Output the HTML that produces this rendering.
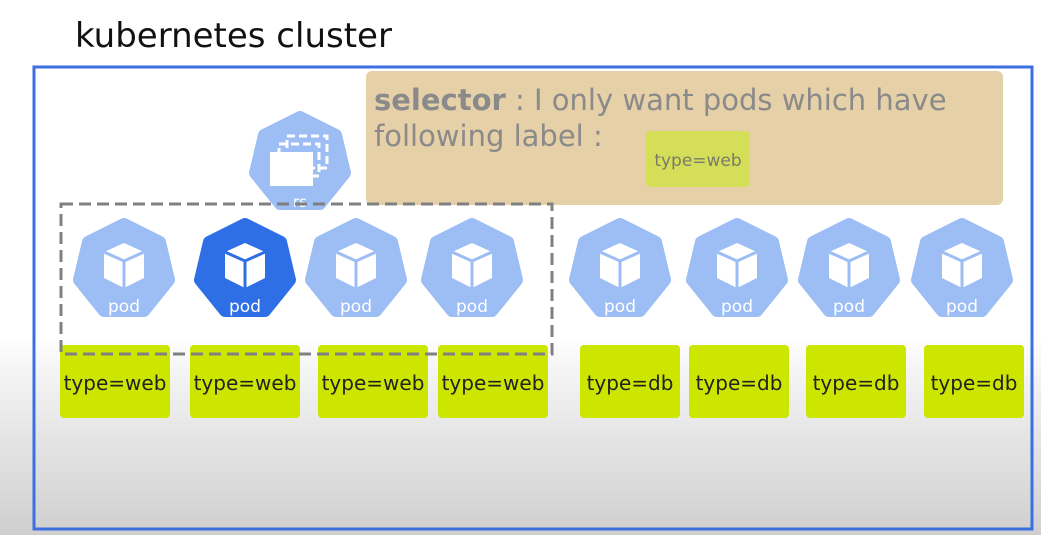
<!DOCTYPE html>
<html><head><meta charset="utf-8"><style>
html,body{margin:0;padding:0;}
body{width:1041px;height:535px;overflow:hidden;background:linear-gradient(#fff 0px,#fff 335px,#f2f2f2 380px,#cfcfcf 535px);font-family:"Liberation Sans",sans-serif;}
</style></head><body>
<svg width="1041" height="535" viewBox="0 0 1041 535" xmlns="http://www.w3.org/2000/svg" style="position:absolute;left:0;top:0">
<defs>
<g id="hep"><polygon points="0,-46 36,-28 45,10 20,41 -20,41 -45,10 -36,-28" stroke-linejoin="round" stroke-width="12"/></g>
<g id="cube"><polygon points="-20,-18 0,-27 20,-18 20,8 0,18 -20,8" fill="#fff"/></g>
</defs>
<text x="75" y="47" font-family="DejaVu Sans, Liberation Sans, sans-serif" font-size="34" fill="#111">kubernetes cluster</text>
<rect x="34" y="67" width="998" height="462" fill="none" stroke="#3c6fe0" stroke-width="3"/>
<rect x="366" y="71" width="637" height="134" rx="6" fill="#e5d0a8"/>
<text x="374" y="110" font-family="DejaVu Sans, sans-serif" font-size="29" fill="#8a8a8a"><tspan font-weight="bold">selector</tspan> : I only want pods which have</text>
<text x="374" y="146" font-family="DejaVu Sans, sans-serif" font-size="29" fill="#8a8a8a">following label  :</text>
<rect x="646" y="131" width="104" height="56" rx="4" fill="#d4de58"/>
<text x="698" y="166" text-anchor="middle" font-family="DejaVu Sans, sans-serif" font-size="17" fill="#7a7a6a">type=web</text>

<!-- rs -->
<g transform="translate(300,163)" fill="#9dbdf5" stroke="#9dbdf5"><use href="#hep"/></g>
<g fill="none" stroke="#fff" stroke-width="3" stroke-dasharray="8,4">
<rect x="287" y="136" width="40" height="32"/>
<rect x="279" y="144" width="40" height="32"/>
</g>
<rect x="270" y="152" width="43" height="34" fill="#fff"/>
<text x="300" y="207" text-anchor="middle" font-family="DejaVu Sans, sans-serif" font-size="15" fill="#fff">rs</text>

<!-- pods -->
<g font-family="DejaVu Sans, sans-serif" font-size="17" fill="#fff" text-anchor="middle">
<g transform="translate(124,270)"><g fill="#9dbdf5" stroke="#9dbdf5"><use href="#hep"/></g><use href="#cube"/><polyline points="-20,-18 0,-9 20,-18" fill="none" stroke="#9dbdf5" stroke-width="3"/><line x1="0" y1="-9" x2="0" y2="18" stroke="#9dbdf5" stroke-width="3"/><text y="42">pod</text></g>
<g transform="translate(245,270)"><g fill="#2f6fe6" stroke="#2f6fe6"><use href="#hep"/></g><use href="#cube"/><polyline points="-20,-18 0,-9 20,-18" fill="none" stroke="#2f6fe6" stroke-width="3"/><line x1="0" y1="-9" x2="0" y2="18" stroke="#2f6fe6" stroke-width="3"/><text y="42">pod</text></g>
<g transform="translate(356,270)"><g fill="#9dbdf5" stroke="#9dbdf5"><use href="#hep"/></g><use href="#cube"/><polyline points="-20,-18 0,-9 20,-18" fill="none" stroke="#9dbdf5" stroke-width="3"/><line x1="0" y1="-9" x2="0" y2="18" stroke="#9dbdf5" stroke-width="3"/><text y="42">pod</text></g>
<g transform="translate(472,270)"><g fill="#9dbdf5" stroke="#9dbdf5"><use href="#hep"/></g><use href="#cube"/><polyline points="-20,-18 0,-9 20,-18" fill="none" stroke="#9dbdf5" stroke-width="3"/><line x1="0" y1="-9" x2="0" y2="18" stroke="#9dbdf5" stroke-width="3"/><text y="42">pod</text></g>
<g transform="translate(620,270)"><g fill="#9dbdf5" stroke="#9dbdf5"><use href="#hep"/></g><use href="#cube"/><polyline points="-20,-18 0,-9 20,-18" fill="none" stroke="#9dbdf5" stroke-width="3"/><line x1="0" y1="-9" x2="0" y2="18" stroke="#9dbdf5" stroke-width="3"/><text y="42">pod</text></g>
<g transform="translate(737,270)"><g fill="#9dbdf5" stroke="#9dbdf5"><use href="#hep"/></g><use href="#cube"/><polyline points="-20,-18 0,-9 20,-18" fill="none" stroke="#9dbdf5" stroke-width="3"/><line x1="0" y1="-9" x2="0" y2="18" stroke="#9dbdf5" stroke-width="3"/><text y="42">pod</text></g>
<g transform="translate(849,270)"><g fill="#9dbdf5" stroke="#9dbdf5"><use href="#hep"/></g><use href="#cube"/><polyline points="-20,-18 0,-9 20,-18" fill="none" stroke="#9dbdf5" stroke-width="3"/><line x1="0" y1="-9" x2="0" y2="18" stroke="#9dbdf5" stroke-width="3"/><text y="42">pod</text></g>
<g transform="translate(962,270)"><g fill="#9dbdf5" stroke="#9dbdf5"><use href="#hep"/></g><use href="#cube"/><polyline points="-20,-18 0,-9 20,-18" fill="none" stroke="#9dbdf5" stroke-width="3"/><line x1="0" y1="-9" x2="0" y2="18" stroke="#9dbdf5" stroke-width="3"/><text y="42">pod</text></g>
</g>

<!-- labels -->
<g fill="#cde600">
<rect x="60" y="345" width="110" height="73" rx="4"/>
<rect x="190" y="345" width="110" height="73" rx="4"/>
<rect x="318" y="345" width="110" height="73" rx="4"/>
<rect x="438" y="345" width="110" height="73" rx="4"/>
<rect x="580" y="345" width="100" height="73" rx="4"/>
<rect x="689" y="345" width="100" height="73" rx="4"/>
<rect x="806" y="345" width="100" height="73" rx="4"/>
<rect x="924" y="345" width="100" height="73" rx="4"/>
</g>
<g font-family="DejaVu Sans, sans-serif" font-size="20" fill="#222" text-anchor="middle">
<text x="115" y="390">type=web</text>
<text x="245" y="390">type=web</text>
<text x="373" y="390">type=web</text>
<text x="493" y="390">type=web</text>
<text x="630" y="390">type=db</text>
<text x="739" y="390">type=db</text>
<text x="856" y="390">type=db</text>
<text x="974" y="390">type=db</text>
</g>

<rect x="61" y="204" width="491" height="150" fill="none" stroke="#808080" stroke-width="3" stroke-dasharray="12,6"/>
</svg>
</body></html>
